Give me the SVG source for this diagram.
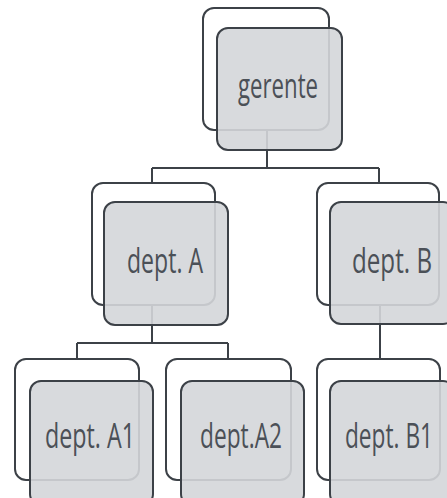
<svg xmlns="http://www.w3.org/2000/svg" width="447" height="498" viewBox="0 0 447 498">
<style>
.back{fill:#ffffff;stroke:#3c4147;stroke-width:2}
.front{fill:#d4d6d9;fill-opacity:0.9;stroke:#3c4147;stroke-width:2}
.lbl{font-family:"Open Sans","Noto Sans",sans-serif;font-size:34px;fill:#4b5057;text-anchor:start}
.conn{fill:none;stroke:#3c4147;stroke-width:2}
</style>
<rect width="447" height="498" fill="#ffffff"/>
<g id="connectors">
<path class="conn" d="M267 130V168M152 168H379M152 168V183M379 168V183"/>
<path class="conn" d="M152 305V343M77 343H228M77 343V359M228 343V359"/>
<path class="conn" d="M380 305V359"/>
</g>
<g id="gerente">
<rect class="back" x="203" y="8" width="126" height="122" rx="11"/>
<rect class="front" x="217" y="28" width="125" height="122" rx="11"/>
<text class="lbl" x="238" y="98" textLength="80" lengthAdjust="spacingAndGlyphs">gerente</text>
</g>
<g id="deptA">
<rect class="back" x="92" y="183" width="123" height="122" rx="11"/>
<rect class="front" x="104" y="202" width="124" height="123" rx="11"/>
<text class="lbl" x="127" y="273" textLength="76" lengthAdjust="spacingAndGlyphs">dept. A</text>
</g>
<g id="deptB">
<rect class="back" x="317" y="183" width="122" height="122" rx="11"/>
<rect class="front" x="330" y="202" width="124" height="122" rx="11"/>
<text class="lbl" x="352" y="273" textLength="80" lengthAdjust="spacingAndGlyphs">dept. B</text>
</g>
<g id="deptA1">
<rect class="back" x="15" y="359" width="124" height="121" rx="11"/>
<rect class="front" x="30" y="381" width="123" height="124" rx="11"/>
<text class="lbl" x="45" y="448" textLength="90" lengthAdjust="spacingAndGlyphs">dept. A1</text>
</g>
<g id="deptA2">
<rect class="back" x="166" y="359" width="125" height="121" rx="11"/>
<rect class="front" x="181" y="381" width="123" height="124" rx="11"/>
<text class="lbl" x="200" y="448" textLength="82" lengthAdjust="spacingAndGlyphs">dept.A2</text>
</g>
<g id="deptB1">
<rect class="back" x="317" y="359" width="123" height="121" rx="11"/>
<rect class="front" x="330" y="381" width="124" height="124" rx="11"/>
<text class="lbl" x="345" y="448" textLength="88" lengthAdjust="spacingAndGlyphs">dept. B1</text>
</g>
</svg>
